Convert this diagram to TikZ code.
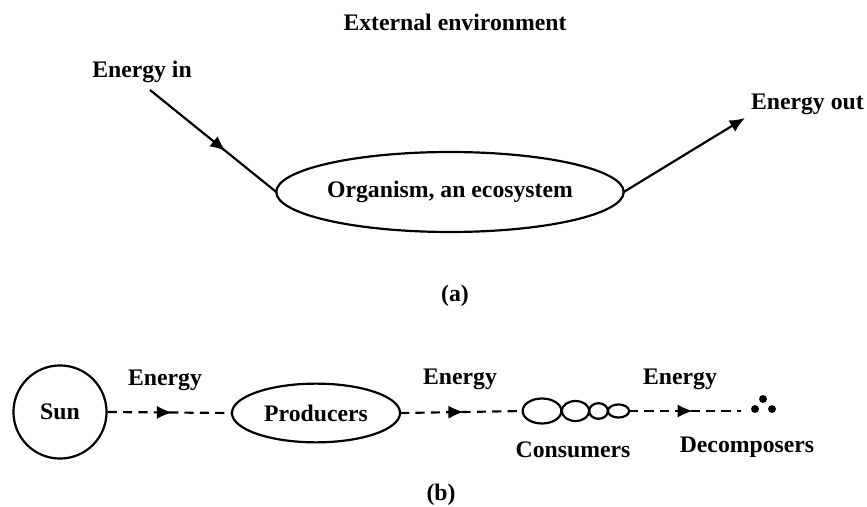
\documentclass[tikz,border=0pt]{standalone}
\usepackage{fontspec}
\setmainfont{Liberation Serif}
\usetikzlibrary{shapes.geometric,arrows.meta,decorations.markings}

\begin{document}
\begin{tikzpicture}[x=0.016cm, y=-0.016cm, line width=1pt,
    font=\bfseries\fontsize{10.8}{13}\selectfont,
    >={Latex[length=7pt,width=6pt]},
    midarrow/.style={postaction={decorate},
      decoration={markings, mark=at position #1 with {\arrow{>}}}},
    flow/.style={dash pattern=on 4.2pt off 2.8pt},
    blob/.style={draw, ellipse, inner sep=0pt, outer sep=0pt},
    dot/.style={circle, fill, inner sep=0pt, minimum size=3.6pt}]
    \useasboundingbox (0,0) rectangle (867,507);
    % (a) energy passing through an organism / ecosystem
    \node (env) at (455,22) {External environment};
    \node (ein) at (142,72) {Energy in};
    \node[blob, minimum width=5.54cm, minimum height=1.28cm] (org) at (450,192) {Organism, an ecosystem};
    \node[anchor=east, inner xsep=1pt] (eout) at (867,104) {Energy out};
    \coordinate (inTail) at (150,90);
    \coordinate (outTip) at (745,118);
    \draw[midarrow=0.6] (inTail) -- (org.west);
    \draw[->] (org.east) -- (outTip);
    \node (capa) at (455,296) {(a)};
    % (b) flow of energy along the food chain
    \node[draw, circle, inner sep=0pt, minimum size=1.49cm] (sun) at (60,412) {Sun};
    \node[blob, minimum width=2.69cm, minimum height=0.94cm] (prod) at (316,413) {Producers};
    \node[blob, minimum width=0.62cm, minimum height=0.40cm] (c1) at (542,411) {};
    \node[blob, minimum width=0.44cm, minimum height=0.32cm] (c2) at (575.5,411) {};
    \node[blob, minimum width=0.30cm, minimum height=0.25cm] (c3) at (598.5,411) {};
    \node[blob, minimum width=0.34cm, minimum height=0.21cm] (c4) at (618.5,411) {};
    \node[dot] (d1) at (755,409) {};
    \node[dot] (d2) at (763,399) {};
    \node[dot] (d3) at (772,409) {};
    \coordinate (decEnd) at (741,411);
    \draw[flow, midarrow=0.52] (sun.east) -- (prod.west);
    \draw[flow, midarrow=0.52] (prod.east) -- (c1.west);
    \draw[flow, midarrow=0.57] (c4.east) -- (decEnd);
    \node (e1) at (165,380) {Energy};
    \node (e2) at (460,379) {Energy};
    \node (e3) at (680,379) {Energy};
    \node (cons) at (573,450) {Consumers};
    \node (decomp) at (747,447) {Decomposers};
    \node (capb) at (441,495) {(b)};
\end{tikzpicture}
\end{document}
